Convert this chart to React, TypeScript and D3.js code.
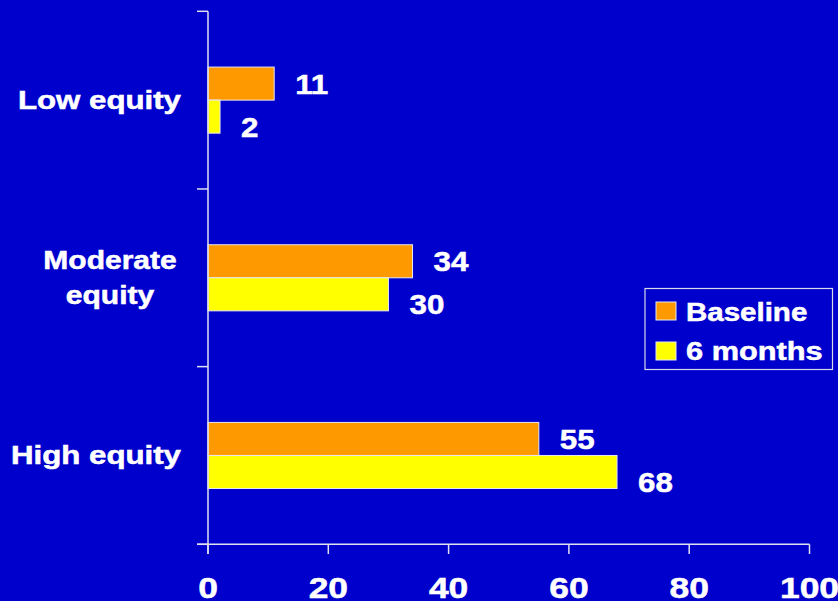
import React from "react";
import * as d3 from "d3";

const categories = ["Low equity", "Moderate equity", "High equity"];
const categoryLines = [["Low equity"], ["Moderate", "equity"], ["High equity"]];
const seriesNames = ["Baseline", "6 months"];
const baseline = [11, 34, 55];
const sixMonths = [2, 30, 68];
const xTicks = [0, 20, 40, 60, 80, 100];

const W = 838;
const H = 601;
const BG = "#0000CC";
const COLORS = ["#FF9900", "#FFFF00"];
const FONT = "'Liberation Sans', Arial, Helvetica, sans-serif";
const TXT = { fill: "#FFFFFF", stroke: "#FFFFFF", strokeWidth: 0.5, fontWeight: "bold" as const };

export default function App() {
  const x = d3.scaleLinear().domain([0, 100]).range([208, 809.5]);
  const y = d3.scaleBand<string>().domain(categories).range([11.3, 544.3]).padding(0);
  const groupFrac = 0.372;
  const series = [baseline, sixMonths];

  return (
    <svg
      width={W}
      height={H}
      style={{ position: "fixed", left: 0, top: 0, background: BG }}
      fontFamily={FONT}
    >
      <rect x={0} y={0} width={W} height={H} fill={BG} />

      {/* bars */}
      {categories.map((c, ci) => {
        const center = (y(c) as number) + y.bandwidth() / 2;
        const gh = y.bandwidth() * groupFrac;
        const inner = d3
          .scaleBand<string>()
          .domain(seriesNames)
          .range([center - gh / 2, center + gh / 2])
          .padding(0);
        return (
          <g key={c}>
            {seriesNames.map((s, si) => {
              const v = series[si][ci];
              const by = inner(s) as number;
              const bh = inner.bandwidth();
              return (
                <g key={s}>
                  <rect
                    x={x(0)}
                    y={by}
                    width={x(v) - x(0)}
                    height={bh}
                    fill={COLORS[si]}
                    stroke="#E8E8F0"
                    strokeWidth={1}
                  />
                  <text
                    transform={`translate(${x(v) + 21},${by + bh / 2 + (si === 0 ? 10 : 20)}) scale(1.12,1)`}
                    {...TXT}
                    fontSize={28}
                  >
                    {v}
                  </text>
                </g>
              );
            })}
          </g>
        );
      })}

      {/* y axis */}
      <line x1={x(0)} x2={x(0)} y1={11.3} y2={554} stroke="#E0E0F0" strokeWidth={1.5} />
      {[0, 1, 2, 3].map((i) => {
        const yy = 11.3 + i * y.step();
        return <line key={i} x1={197} x2={x(0)} y1={yy} y2={yy} stroke="#E0E0F0" strokeWidth={1.5} />;
      })}

      {/* x axis */}
      <line x1={197} x2={x(100)} y1={544.3} y2={544.3} stroke="#E0E0F0" strokeWidth={1.5} />
      {xTicks.map((t) => (
        <g key={t}>
          <line x1={x(t)} x2={x(t)} y1={544.3} y2={554} stroke="#E0E0F0" strokeWidth={1.5} />
          <text
            transform={`translate(${x(t)},598) scale(1.18,1)`}
            textAnchor="middle"
            {...TXT}
            fontSize={30}
          >
            {t}
          </text>
        </g>
      ))}

      {/* category labels */}
      {categories.map((c, ci) => {
        const center = (y(c) as number) + y.bandwidth() / 2;
        const lines = categoryLines[ci];
        if (lines.length === 1) {
          return (
            <text
              key={c}
              transform={`translate(181,${center + 8.5}) scale(1.25,1)`}
              textAnchor="end"
              {...TXT}
              fontSize={25}
            >
              {lines[0]}
            </text>
          );
        }
        return (
          <g key={c}>
            {lines.map((l, li) => (
              <text
                key={l}
                transform={`translate(110,${center - 9 + li * 35}) scale(1.2,1)`}
                textAnchor="middle"
                {...TXT}
                fontSize={25}
              >
                {l}
              </text>
            ))}
          </g>
        );
      })}

      {/* legend */}
      <rect x={645} y={288.5} width={187.5} height={81} fill={BG} stroke="#D8D8E8" strokeWidth={1.2} />
      {seriesNames.map((s, si) => (
        <g key={s}>
          <rect
            x={656}
            y={302 + si * 40}
            width={20}
            height={18}
            fill={COLORS[si]}
            stroke="#E8E8F0"
            strokeWidth={1}
          />
          <text
            transform={`translate(686,${320.7 + si * 39.5}) scale(${si === 0 ? 1.18 : 1.23},1)`}
            {...TXT}
            fontSize={25}
          >
            {s}
          </text>
        </g>
      ))}
    </svg>
  );
}
